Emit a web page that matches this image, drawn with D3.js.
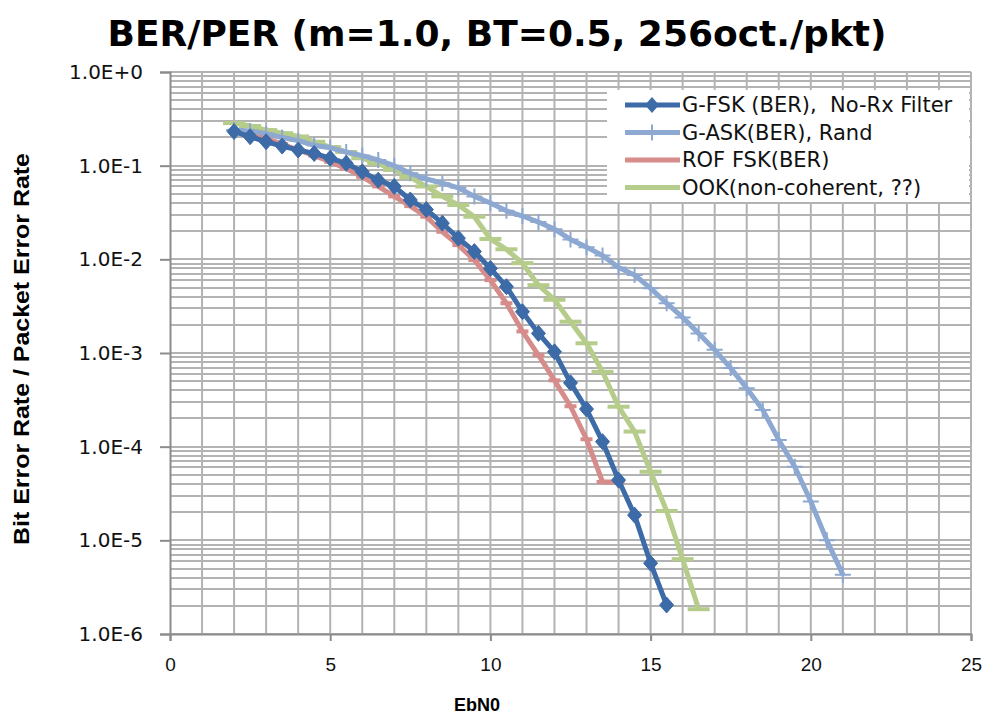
<!DOCTYPE html>
<html>
<head>
<meta charset="utf-8">
<script src="https://cdn.jsdelivr.net/npm/d3@7"></script>
<style>
  body { margin: 0; background: #fff; }
  svg { display: block; }
  .title { font-family: "DejaVu Sans", Verdana, sans-serif; font-weight: bold; font-size: 36px; }
  .ytick { font-family: "DejaVu Sans", Verdana, sans-serif; font-size: 20px; }
  .xtick { font-family: "Liberation Sans", Arial, sans-serif; font-size: 19px; }
  .axis-title { font-family: "Liberation Sans", Arial, sans-serif; font-weight: bold; }
  .legend text { font-family: "DejaVu Sans", Verdana, sans-serif; font-size: 21px; }
</style>
</head>
<body>
<div id="chart"></div>
<script>
// EbN0 values and BER per series
const gfskX = [2, 2.5, 3, 3.5, 4, 4.5, 5, 5.5, 6, 6.5, 7, 7.5, 8, 8.5, 9, 9.5, 10, 10.5, 11, 11.5, 12, 12.5, 13, 13.5, 14, 14.5, 15, 15.5];
const gfskY = [0.231, 0.204, 0.180, 0.162, 0.147, 0.135, 0.120, 0.106, 0.086, 0.070, 0.060, 0.043, 0.034, 0.0243, 0.0168, 0.0121, 0.0080, 0.0051, 0.00276, 0.00162, 0.00103, 0.00048, 0.000252, 0.000113, 4.4e-5, 1.86e-5, 5.7e-6, 2.04e-6];

const gaskX = [2, 2.5, 3, 3.5, 4, 4.5, 5, 5.5, 6, 6.5, 7, 7.5, 8, 8.5, 9, 9.5, 10, 10.5, 11, 11.5, 12, 12.5, 13, 13.5, 14, 14.5, 15, 15.5, 16, 16.5, 17, 17.5, 18, 18.5, 19, 19.5, 20, 20.5, 21];
const gaskY = [0.24, 0.235, 0.22, 0.2, 0.185, 0.165, 0.155, 0.14, 0.128, 0.115, 0.10, 0.083, 0.072, 0.065, 0.058, 0.047, 0.040, 0.033, 0.029, 0.025, 0.021, 0.0163, 0.0135, 0.011, 0.0082, 0.0068, 0.0049, 0.0034, 0.0024, 0.00162, 0.00108, 0.00069, 0.00042, 0.000247, 0.000118, 6.1e-5, 2.6e-5, 1.0e-5, 4.3e-6];

const rofX = [2, 2.5, 3, 3.5, 4, 4.5, 5, 5.5, 6, 6.5, 7, 7.5, 8, 8.5, 9, 9.5, 10, 10.5, 11, 11.5, 12, 12.5, 13, 13.5, 14];
const rofY = [0.236, 0.215, 0.196, 0.17, 0.147, 0.128, 0.110, 0.093, 0.076, 0.060, 0.047, 0.037, 0.0285, 0.0197, 0.0142, 0.0098, 0.0060, 0.0034, 0.0017, 0.00095, 0.00051, 0.00027, 0.000120, 4.2e-5, 4.2e-5];

const ookX = [2, 2.5, 3, 3.5, 4, 4.5, 5, 5.5, 6, 6.5, 7, 7.5, 8, 8.5, 9, 9.5, 10, 10.5, 11, 11.5, 12, 12.5, 13, 13.5, 14, 14.5, 15, 15.5, 16, 16.5];
const ookY = [0.285, 0.265, 0.24, 0.222, 0.205, 0.18, 0.158, 0.14, 0.12, 0.105, 0.09, 0.075, 0.06, 0.047, 0.038, 0.0285, 0.0165, 0.0128, 0.0091, 0.0053, 0.0037, 0.00216, 0.00127, 0.00063, 0.000267, 0.000145, 5.4e-5, 2.06e-5, 6.3e-6, 1.84e-6];

const seriesNames = ['G-FSK (BER),  No-Rx Filter', 'G-ASK(BER), Rand', 'ROF FSK(BER)', 'OOK(non-coherent, ??)'];
const seriesColors = ['#3D6BA7', '#8DA8D1', '#D58C8A', '#B6CC8A'];
const seriesMarkers = ['diamond', 'plus', 'dashSmall', 'dash'];

const yTickValues = [1, 1e-1, 1e-2, 1e-3, 1e-4, 1e-5, 1e-6];
const yTickLabels = ['1.0E+0', '1.0E-1', '1.0E-2', '1.0E-3', '1.0E-4', '1.0E-5', '1.0E-6'];
const xTickValues = [0, 5, 10, 15, 20, 25];

const series = [
  { name: seriesNames[0], color: seriesColors[0], marker: seriesMarkers[0], pts: gfskX.map((x, i) => ({ x, y: gfskY[i] })) },
  { name: seriesNames[1], color: seriesColors[1], marker: seriesMarkers[1], pts: gaskX.map((x, i) => ({ x, y: gaskY[i] })) },
  { name: seriesNames[2], color: seriesColors[2], marker: seriesMarkers[2], pts: rofX.map((x, i) => ({ x, y: rofY[i] })) },
  { name: seriesNames[3], color: seriesColors[3], marker: seriesMarkers[3], pts: ookX.map((x, i) => ({ x, y: ookY[i] })) }
];

const W = 987, H = 715;
const plot = { left: 170, right: 971, top: 72, bottom: 634 };

const svg = d3.select('#chart').append('svg')
  .attr('width', W)
  .attr('height', H);

const x = d3.scaleLinear().domain([0, 25]).range([plot.left, plot.right]);
const y = d3.scaleLog().domain([1e-6, 1]).range([plot.bottom, plot.top]);

// gridlines: every 1 dB, and 1..9 per decade
const grid = svg.append('g').attr('class', 'grid')
  .attr('stroke', '#b3b3b3')
  .attr('stroke-width', 2);

grid.selectAll('line.v').data(d3.range(1, 26))
  .enter().append('line')
  .attr('class', 'v')
  .attr('x1', d => x(d)).attr('x2', d => x(d))
  .attr('y1', plot.top).attr('y2', plot.bottom);

grid.selectAll('line.h').data(y.ticks())
  .enter().append('line')
  .attr('class', 'h')
  .attr('x1', plot.left).attr('x2', plot.right)
  .attr('y1', d => Math.round(y(d))).attr('y2', d => Math.round(y(d)));

// axes
const yAxis = d3.axisLeft(y)
  .tickValues(yTickValues)
  .tickFormat((d, i) => yTickLabels[i])
  .tickSize(10)
  .tickPadding(17);

const xAxis = d3.axisBottom(x)
  .tickValues(xTickValues)
  .tickSize(7)
  .tickPadding(17);

const yg = svg.append('g')
  .attr('transform', `translate(${plot.left},0)`)
  .call(yAxis);

const xg = svg.append('g')
  .attr('transform', `translate(0,${plot.bottom})`)
  .call(xAxis);

[yg, xg].forEach(g => {
  g.attr('font-size', null).attr('font-family', null);
  g.select('.domain').attr('stroke', '#8c8c8c').attr('stroke-width', 2);
  g.selectAll('.tick line').attr('stroke', '#8c8c8c').attr('stroke-width', 2);
  g.selectAll('.tick text').attr('fill', '#111');
});
yg.selectAll('.tick text').attr('class', 'ytick');
xg.selectAll('.tick text').attr('class', 'xtick');

// series, last one drawn first
const line = d3.line().x(d => x(d.x)).y(d => y(d.y));

const symbolPath = {
  diamond: 'M0,-8L7,0L0,8L-7,0Z',
  plus: 'M-8,0H8M0,-8V8',
  dashSmall: 'M-6,0H6',
  dash: 'M-11,0H11'
};

const sg = svg.append('g').attr('class', 'series');
series.slice().reverse().forEach(s => {
  const g = sg.append('g');
  g.append('path')
    .datum(s.pts)
    .attr('fill', 'none')
    .attr('stroke', s.color)
    .attr('stroke-width', 5)
    .attr('stroke-linejoin', 'round')
    .attr('d', line);

  g.selectAll('path.m').data(s.pts)
    .enter().append('path')
    .attr('class', 'm')
    .attr('transform', d => `translate(${x(d.x)},${y(d.y)})`)
    .attr('d', symbolPath[s.marker])
    .attr('fill', s.marker === 'diamond' ? s.color : 'none')
    .attr('stroke', s.color)
    .attr('stroke-width', s.marker === 'plus' ? 2 : (s.marker === 'diamond' ? 1 : 4));
});

// legend
const legend = svg.append('g').attr('class', 'legend')
  .attr('transform', 'translate(607,90)');

legend.append('rect')
  .attr('width', 362)
  .attr('height', 112)
  .attr('fill', '#fff');

const item = legend.selectAll('g.item').data(series)
  .enter().append('g')
  .attr('class', 'item')
  .attr('transform', (d, i) => `translate(0,${15 + i * 27.5})`);

item.append('line')
  .attr('x1', 18).attr('x2', 73)
  .attr('stroke', d => d.color)
  .attr('stroke-width', 5);

item.filter(d => d.marker === 'diamond').append('path')
  .attr('transform', 'translate(45,0)')
  .attr('d', symbolPath.diamond)
  .attr('fill', d => d.color);

item.filter(d => d.marker === 'plus').append('path')
  .attr('transform', 'translate(45,0)')
  .attr('d', symbolPath.plus)
  .attr('stroke', d => d.color)
  .attr('stroke-width', 2);

item.append('text')
  .attr('x', 75)
  .attr('dy', '0.35em')
  .attr('fill', '#111')
  .attr('xml:space', 'preserve')
  .text(d => d.name);

// titles
svg.append('text')
  .attr('class', 'title')
  .attr('x', 497)
  .attr('y', 46)
  .attr('text-anchor', 'middle')
  .text('BER/PER (m=1.0, BT=0.5, 256oct./pkt)');

svg.append('text')
  .attr('class', 'axis-title')
  .attr('transform', 'translate(29,349) rotate(-90)')
  .attr('text-anchor', 'middle')
  .attr('font-size', 22)
  .attr('textLength', 392)
  .attr('lengthAdjust', 'spacingAndGlyphs')
  .text('Bit Error Rate / Packet Error Rate');

svg.append('text')
  .attr('class', 'axis-title')
  .attr('x', 477)
  .attr('y', 711)
  .attr('text-anchor', 'middle')
  .attr('font-size', 18)
  .text('EbN0');
</script>
</body>
</html>
